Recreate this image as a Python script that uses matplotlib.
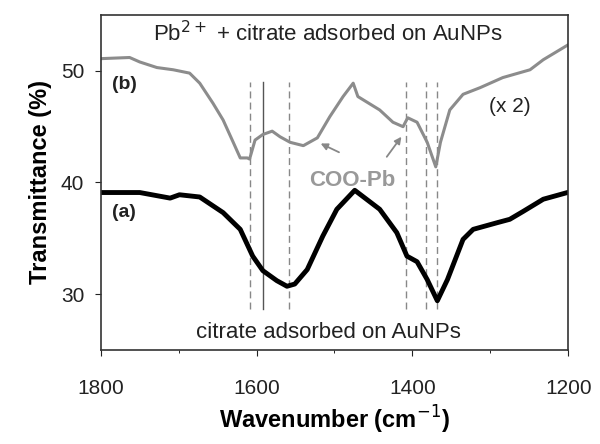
import matplotlib
matplotlib.use("Agg")
import matplotlib.pyplot as plt

plt.rcParams['font.family'] = ['Liberation Sans', 'DejaVu Sans']

# Curve (a): citrate adsorbed on AuNPs
wn_a = [1799, 1750, 1711, 1699, 1673, 1643, 1621, 1605, 1592, 1574, 1561, 1551,
        1535, 1515, 1497, 1474, 1442, 1420, 1407, 1394, 1381, 1368, 1355, 1335,
        1322, 1291, 1275, 1258, 1232, 1201]
tr_a = [39.1, 39.1, 38.6, 38.9, 38.7, 37.3, 35.8, 33.4, 32.1, 31.2, 30.7, 30.9,
        32.2, 35.2, 37.6, 39.3, 37.6, 35.5, 33.4, 32.9, 31.3, 29.4, 31.3, 34.9,
        35.8, 36.4, 36.7, 37.4, 38.5, 39.1]

# Curve (b): Pb2+ + citrate adsorbed on AuNPs (x 2)
wn_b = [1799, 1763, 1750, 1728, 1707, 1686, 1673, 1656, 1643, 1630, 1621, 1612,
        1609, 1602, 1592, 1580, 1570, 1557, 1540, 1522, 1506, 1489, 1476, 1470,
        1463, 1442, 1425, 1412, 1406, 1394, 1381, 1370, 1364, 1352, 1335, 1313,
        1284, 1249, 1232, 1201]
tr_b = [51.1, 51.2, 50.8, 50.3, 50.1, 49.8, 48.9, 47.1, 45.6, 43.6, 42.2, 42.2,
        42.1, 43.8, 44.3, 44.6, 44.1, 43.6, 43.3, 44.0, 45.9, 47.7, 48.9, 47.7,
        47.4, 46.5, 45.4, 45.0, 45.8, 45.4, 43.6, 41.4, 43.6, 46.5, 47.9, 48.5,
        49.4, 50.1, 51.0, 52.3]

# Marker lines
dashed_wn = [1609, 1558, 1408, 1382, 1368]
solid_wn = [1592]
line_ymin, line_ymax = 28.7, 49.0

x_ticks = [1800, 1600, 1400, 1200]
y_ticks = [30, 40, 50]

fig = plt.figure(figsize=(6, 4.44), dpi=100)
ax = fig.add_axes([0.168, 0.212, 0.779, 0.754])

for w in dashed_wn:
    ax.plot([w, w], [line_ymin, line_ymax], color='#888888', lw=1.0,
            ls=(0, (5, 3)))
for w in solid_wn:
    ax.plot([w, w], [line_ymin, line_ymax], color='#555555', lw=1.0)

ax.plot(wn_b, tr_b, color='#8c8c8c', lw=2.2)
ax.plot(wn_a, tr_a, color='black', lw=3.5)

ax.set_xlim(1800, 1200)
ax.set_ylim(25, 55)
ax.set_xticks(x_ticks)
ax.set_xticks([1700, 1500, 1300], minor=True)
ax.set_yticks(y_ticks)
ax.tick_params(axis='x', which='major', direction='out', length=4, pad=17,
               labelsize=15, colors='#222222')
ax.tick_params(axis='x', which='minor', direction='out', length=2)
ax.tick_params(axis='y', direction='out', length=4, pad=8, labelsize=15,
               colors='#222222')
for s in ax.spines.values():
    s.set_color('#333333')
    s.set_linewidth(1.2)

ax.set_xlabel('Wavenumber (cm$^{-1}$)', fontsize=17, fontweight='bold',
              labelpad=4)
ax.set_ylabel('Transmittance (%)', fontsize=17, fontweight='bold', labelpad=6)

ax.text(1508, 53.3, 'Pb$^{2+}$ + citrate adsorbed on AuNPs', fontsize=16,
        ha='center', va='center', color='#222222')
ax.text(1508, 26.6, 'citrate adsorbed on AuNPs', fontsize=16,
        ha='center', va='center', color='#222222')
ax.text(1786, 48.8, '(b)', fontsize=14, fontweight='bold', ha='left',
        va='center', color='#222222')
ax.text(1786, 37.3, '(a)', fontsize=14, fontweight='bold', ha='left',
        va='center', color='#222222')
ax.text(1275, 46.8, '(x 2)', fontsize=15, ha='center', va='center',
        color='#222222')
ax.text(1477, 40.2, 'COO-Pb', fontsize=16, fontweight='bold', ha='center',
        va='center', color='#999999')
ax.annotate('', xy=(1521, 43.6), xytext=(1491, 42.6),
            arrowprops=dict(arrowstyle='-|>', color='#888888', lw=1.3,
                            mutation_scale=10))
ax.annotate('', xy=(1412, 44.3), xytext=(1435, 42.1),
            arrowprops=dict(arrowstyle='-|>', color='#888888', lw=1.3,
                            mutation_scale=10))

fig.savefig('out.png', dpi=100)
